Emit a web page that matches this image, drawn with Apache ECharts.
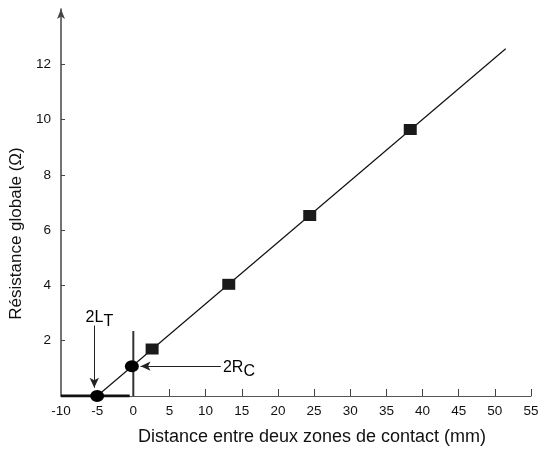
<!DOCTYPE html>
<html>
<head>
<meta charset="utf-8">
<script src="https://cdn.jsdelivr.net/npm/echarts@6/dist/echarts.min.js"></script>
<style>html,body{margin:0;padding:0;background:#fff}#c{width:545px;height:451px}</style>
</head>
<body>
<div id="c"></div>
<script>
// Data
var squarePoints = [[2.6, 1.7], [13.2, 4.04], [24.4, 6.53], [38.3, 9.64]];
var circlePoints = [[-5.0, 0.0], [-0.2, 1.08]];
var fitLine = [[-5.0, 0.0], [51.5, 12.56]];
var zeroMarker = [[0, 0], [0, 2.35]];
var thickSegment = [[-10, 0], [-0.5, 0]];
var xTicks = [-10, -5, 0, 5, 10, 15, 20, 25, 30, 35, 40, 45, 50, 55];
var xTickMarks = [5, 10, 15, 20, 25, 30, 35, 40, 45, 50, 55];
var yTicks = [2, 4, 6, 8, 10, 12];
var arrowLT = [[-5.4, 2.55], [-5.4, 0.3]];
var arrowRC = [[12.1, 1.08], [1.0, 1.08]];
var labelLT = [-6.6, 2.76];
var labelRC = [12.4, 0.94];

var tickFont = "'Liberation Sans Narrow', 'Liberation Sans', Arial, sans-serif";
var textFont = "'Liberation Sans', Arial, sans-serif";
var chart = echarts.init(document.getElementById('c'), null, {renderer: 'canvas'});
chart.setOption({
  animation: false,
  backgroundColor: '#fff',
  grid: {left: 61, right: 14, top: 9, bottom: 54, containLabel: false},
  xAxis: {
    type: 'value', min: -10, max: 55, interval: 5,
    name: 'Distance entre deux zones de contact (mm)',
    nameLocation: 'middle', nameGap: 32,
    nameTextStyle: {fontFamily: textFont, fontSize: 18, color: '#111', padding: [0, 0, 0, 32]},
    axisLine: {show: true, onZero: false, lineStyle: {color: '#555', width: 1.2}},
    axisTick: {show: true, inside: true, length: 7, customValues: xTickMarks, lineStyle: {color: '#444', width: 1}},
    axisLabel: {show: true, customValues: xTicks, margin: 8, fontFamily: tickFont, fontSize: 13.5, color: '#111'},
    splitLine: {show: false}
  },
  yAxis: {
    type: 'value', min: 0, max: 14, interval: 2,
    name: 'Résistance globale (Ω)',
    nameLocation: 'middle', nameGap: 30,
    nameTextStyle: {fontFamily: textFont, fontSize: 17, color: '#111', padding: [0, 62, 0, 0]},
    axisLine: {show: true, onZero: false, symbol: ['none', 'arrow'], symbolSize: [6, 10], symbolOffset: [0, 0], lineStyle: {color: '#444', width: 1.5}},
    axisTick: {show: true, inside: true, length: 4, customValues: yTicks, lineStyle: {color: '#444', width: 1}},
    axisLabel: {show: true, customValues: yTicks, margin: 10, fontFamily: tickFont, fontSize: 13.5, color: '#111'},
    splitLine: {show: false}
  },
  series: [
    {type: 'line', data: thickSegment, symbol: 'none', lineStyle: {color: '#111', width: 3}, silent: true, z: 3},
    {type: 'line', data: zeroMarker, symbol: 'none', lineStyle: {color: '#333', width: 2}, silent: true, z: 3},
    {type: 'line', data: fitLine, symbol: 'none', lineStyle: {color: '#111', width: 1.2}, silent: true, z: 4},
    {type: 'scatter', data: squarePoints, symbol: 'rect', symbolSize: [13, 11], itemStyle: {color: '#1a1a1a', opacity: 1}, z: 5},
    {type: 'scatter', data: circlePoints, symbol: 'circle', symbolSize: [14, 12], itemStyle: {color: '#000', opacity: 1}, z: 6},
    {
      type: 'line', data: [], symbol: 'none',
      markLine: {
        silent: true, symbol: ['none', 'arrow'], symbolSize: [7, 10],
        lineStyle: {color: '#222', width: 1, type: 'solid'},
        label: {show: false},
        data: [
          [{coord: arrowLT[0]}, {coord: arrowLT[1]}],
          [{coord: arrowRC[0]}, {coord: arrowRC[1]}]
        ]
      }
    },
    {
      type: 'scatter', symbolSize: 0, silent: true, z: 7,
      itemStyle: {opacity: 1},
      data: [
        {value: labelLT, label: {formatter: '{a|2L}{b|T}'}},
        {value: labelRC, label: {formatter: '{a|2R}{b|C}'}}
      ],
      label: {
        show: true, position: 'right', distance: 0, color: '#000', opacity: 1,
        rich: {
          a: {fontFamily: textFont, fontSize: 16, color: '#000', lineHeight: 20, verticalAlign: 'top', padding: [0, 0, 1, 0]},
          b: {fontFamily: textFont, fontSize: 16, color: '#000', lineHeight: 20, verticalAlign: 'bottom', padding: [1, 0, 0, 0]}
        }
      }
    }
  ]
});
</script>
</body>
</html>
